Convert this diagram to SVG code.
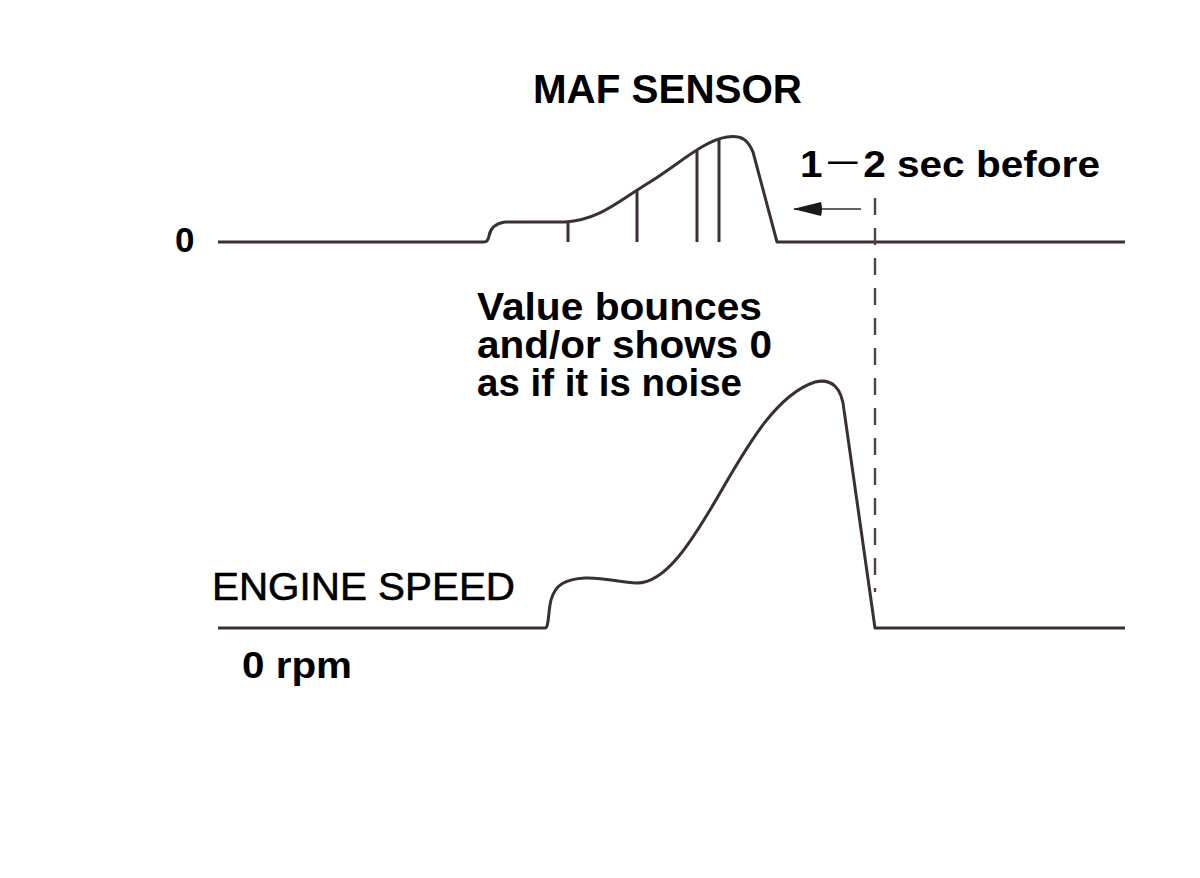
<svg xmlns="http://www.w3.org/2000/svg" width="1200" height="878" viewBox="0 0 1200 878">
  <style>
    .curve { fill: none; stroke: #3a302e; stroke-width: 3; stroke-linejoin: round; stroke-linecap: butt; }
    .tick { stroke: #3a302e; stroke-width: 3; }
    .dash { stroke: #4e4645; stroke-width: 2.4; stroke-dasharray: 17 13; fill: none; }
    .lbl { font-family: "Liberation Sans", Arial, sans-serif; fill: #000; }
    .b { font-weight: bold; }
    .med { stroke: #000; stroke-width: 0.6; }
  </style>
  <defs>
    <marker id="arrowhead" viewBox="0 0 30 16" refX="29" refY="8" markerWidth="30" markerHeight="16" markerUnits="userSpaceOnUse" orient="auto">
      <path d="M30,8 L2,1 Q0,8 2,15 Z" fill="#1e1a1a"/>
    </marker>
  </defs>
  <rect width="1200" height="878" fill="#ffffff"/>

  <g id="maf-signal">
    <path class="curve" d="M218,242 H484 Q488,242 489,236 Q491,224 505,222 L565,222 C600,220 620,200 650,182 C680,163 705,140 727,137 C742,135 748,140 753,152 L777,242 H1125"/>
    <line class="tick" x1="568" y1="222" x2="568" y2="242"/>
    <line class="tick" x1="637" y1="190" x2="637" y2="242"/>
    <line class="tick" x1="697" y1="151" x2="697" y2="242"/>
    <line class="tick" x1="719" y1="139" x2="719" y2="242"/>
  </g>

  <g id="engine-speed-signal">
    <path class="curve" d="M218,628 H545 C549,628 548,612 551,600 C555,585 565,579 585,578 C605,577 620,583 637,583 C665,583 690,545 720,493 C745,450 775,395 815,382 C832,378 842,388 844,410 L875,628 H1125"/>
  </g>

  <g id="connectors">
    <line class="dash" x1="875" y1="198" x2="875" y2="592"/>
    <line x1="861" y1="209" x2="794" y2="209" stroke="#6a6262" stroke-width="2" marker-end="url(#arrowhead)"/>
  </g>

  <g id="labels">
    <text class="lbl b" x="533" y="103" font-size="40" textLength="269" lengthAdjust="spacingAndGlyphs">MAF SENSOR</text>
    <text class="lbl b" x="800" y="177" font-size="37" textLength="300" lengthAdjust="spacingAndGlyphs">1<tspan font-family="'Noto Sans CJK JP', sans-serif" font-weight="normal">－</tspan>2 sec before</text>
    <text class="lbl b" x="175" y="252" font-size="35">0</text>
    <text class="lbl b" x="477" y="320" font-size="38" textLength="285" lengthAdjust="spacingAndGlyphs">Value bounces</text>
    <text class="lbl b" x="477" y="358" font-size="38" textLength="295" lengthAdjust="spacingAndGlyphs">and/or shows 0</text>
    <text class="lbl b" x="477" y="396" font-size="38" textLength="265" lengthAdjust="spacingAndGlyphs">as if it is noise</text>
    <text class="lbl med" x="212" y="600" font-size="38" textLength="303" lengthAdjust="spacingAndGlyphs">ENGINE SPEED</text>
    <text class="lbl b" x="242" y="678" font-size="37" textLength="110" lengthAdjust="spacingAndGlyphs">0 rpm</text>
  </g>
</svg>
